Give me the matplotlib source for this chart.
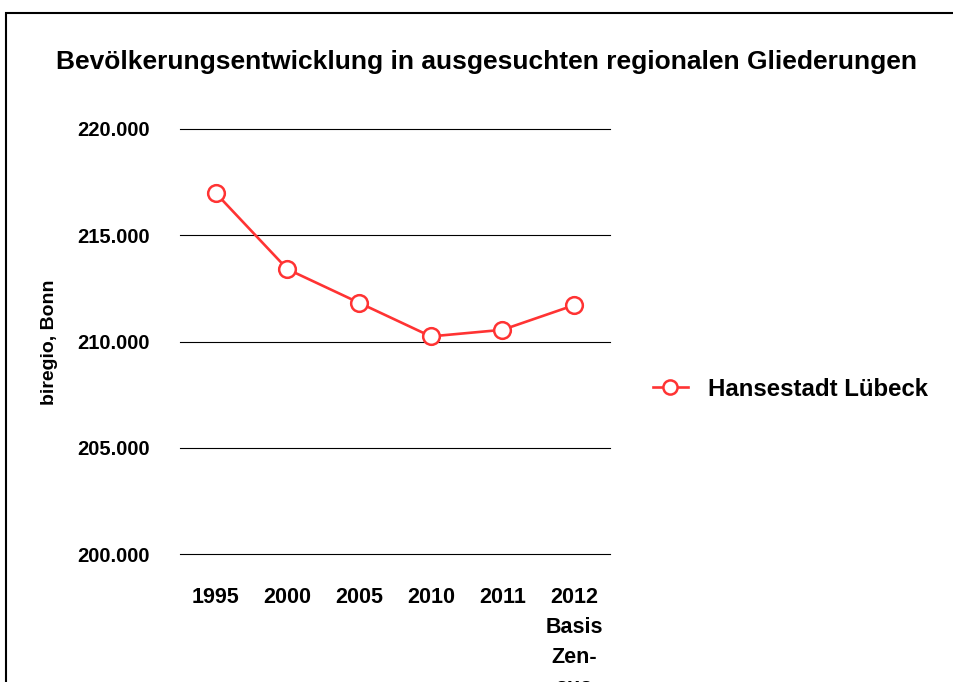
import matplotlib
matplotlib.use("Agg")
import matplotlib.pyplot as plt
from matplotlib.patches import Rectangle
from matplotlib.ticker import FuncFormatter

plt.rcParams['font.family'] = ['Liberation Sans', 'DejaVu Sans']
plt.rcParams['font.weight'] = 'bold'

years = ["1995", "2000", "2005", "2010", "2011", "2012\nBasis\nZen-\nsus"]
population = [216980, 213400, 211820, 210240, 210550, 211710]
series_name = "Hansestadt Lübeck"
y_ticks = [200000, 205000, 210000, 215000, 220000]

fig = plt.figure(figsize=(9.54, 6.82), dpi=100)
ax = fig.add_axes([180 / 954, 1 - 554 / 682, 430 / 954, 425 / 682])

red = "#ff3333"
ax.plot(range(len(years)), population, color=red, linewidth=1.9,
        marker="o", markersize=12, markerfacecolor="white",
        markeredgecolor=red, markeredgewidth=1.8, label=series_name, zorder=3)

ax.set_xlim(-0.5, len(years) - 0.5)
ax.set_ylim(200000, 220000)
ax.set_yticks(y_ticks)
ax.yaxis.set_major_formatter(FuncFormatter(lambda v, p: f"{int(v):,}".replace(",", ".")))
ax.set_xticks(range(len(years)))
ax.set_xticklabels(years, fontsize=15.5, fontweight="bold", linespacing=1.55)
ax.tick_params(axis="y", length=0, pad=22, labelsize=14.5)
ax.tick_params(axis="x", length=0, pad=24)

for v in y_ticks:
    ax.axhline(v, color="black", linewidth=0.8, zorder=1, clip_on=False)
for s in ax.spines.values():
    s.set_visible(False)

ax.set_ylabel("biregio, Bonn", fontsize=14, fontweight="bold")
ax.yaxis.set_label_coords(-(180 - 58) / 430, (554 - 342) / 425)

fig.text(487 / 954, 1 - 62 / 682, "Bevölkerungsentwicklung in ausgesuchten regionalen Gliederungen",
         ha="center", va="center", fontsize=19, fontweight="bold")

fig.legend(loc="center left", bbox_to_anchor=(653 / 954, 1 - 389 / 682),
           frameon=False, handlelength=1.45, handletextpad=0.85,
           borderpad=0, borderaxespad=0, markerscale=0.85,
           prop={"weight": "bold", "size": 17.3})

# outer frame around the chart area
fig.patches.append(Rectangle((6 / 954, -0.1), 1.2, 1.1 - 13 / 682,
                             transform=fig.transFigure, fill=False,
                             edgecolor="black", linewidth=1.5))

fig.savefig("out.png", dpi=100)
